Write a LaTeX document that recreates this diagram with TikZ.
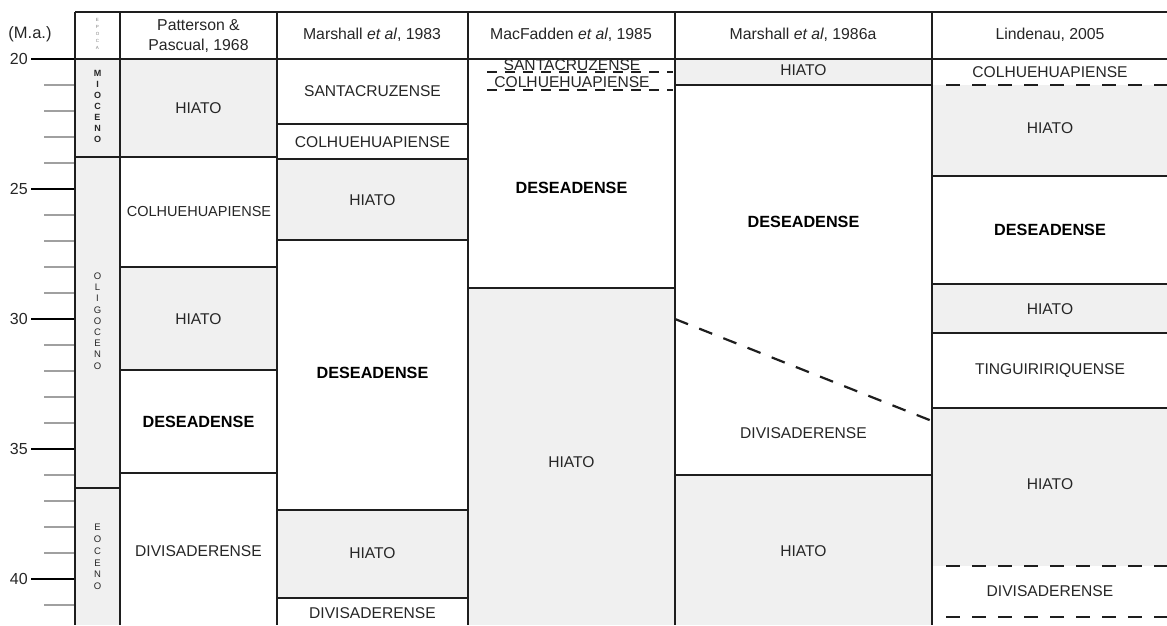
\documentclass[tikz,border=0pt]{standalone}
\usepackage{fontspec}
\setmainfont{Liberation Sans}
\usetikzlibrary{positioning}
\definecolor{gapgray}{HTML}{F0F0F0}
\definecolor{linegray}{HTML}{1E1E1E}
\definecolor{txtgray}{HTML}{262626}
\definecolor{tickgray}{HTML}{A0A0A0}

\begin{document}
\begin{tikzpicture}[x=1pt,y=-1pt,
  rule/.style={line width=1.9pt,draw=linegray},
  dashrule/.style={line width=2.2pt,draw=linegray,dash pattern=on 14pt off 12pt},
  lbl/.style={font=\fontsize{15.6}{18}\selectfont,text=txtgray},
  blbl/.style={font=\fontsize{16.2}{18}\selectfont\bfseries,text=black},
  hdr/.style={font=\fontsize{15.8}{20}\selectfont,text=txtgray,align=center},
  epoca/.style={align=center,text=txtgray}]
\useasboundingbox[fill=white] (0,0) rectangle (1167,625);

% fills
\fill[gapgray] (75,59) rectangle (120,625);
\fill[gapgray] (120,59) rectangle (277,157);
\fill[gapgray] (120,267) rectangle (277,370);
\fill[gapgray] (277,159) rectangle (468,240);
\fill[gapgray] (277,510) rectangle (468,598);
\fill[gapgray] (468,288) rectangle (675,625);
\fill[gapgray] (675,59) rectangle (932,85);
\fill[gapgray] (675,475) rectangle (932,625);
\fill[gapgray] (932,85) rectangle (1167,176);
\fill[gapgray] (932,284) rectangle (1167,333);
\fill[gapgray] (932,408) rectangle (1167,566);

% scale
\foreach \m in {21,...,41}
  \draw[tickgray,line width=1.3pt] (44,{59+26*(\m-20)}) -- (75,{59+26*(\m-20)});
\foreach \m in {20,25,...,40}
  \draw[black,line width=2.6pt] (31,{59+26*(\m-20)}) node[left,lbl,inner sep=2pt,font=\fontsize{16}{18}\selectfont] (ma\m) {\m} -- (75,{59+26*(\m-20)});
\node[lbl,font=\fontsize{16.5}{18}\selectfont] (unit) at (30,34) {(M.a.)};

% frame
\draw[rule] (75,12) -- (1167,12);
\draw[rule] (75,59) -- (1167,59);
\foreach \x in {75,120,277,468,675,932}
  \draw[rule] (\x,12) -- (\x,625);

% epochs
\draw[rule] (75,157) -- (277,157);
\draw[rule] (75,488) -- (120,488);
\node[epoca,font=\fontsize{4.5}{7}\selectfont,text=gray] (epHdr) at (97.5,34) {E\\P\\O\\C\\A};
\node[epoca,font=\fontsize{9}{11}\selectfont\bfseries] (mio) at (97.5,106) {M\\I\\O\\C\\E\\N\\O};
\node[epoca,font=\fontsize{9.5}{11.2}\selectfont] (oli) at (97.5,321) {O\\L\\I\\G\\O\\C\\E\\N\\O};
\node[epoca,font=\fontsize{9.5}{11.8}\selectfont] (eoc) at (97.5,557) {E\\O\\C\\E\\N\\O};

% headers
\node[hdr] (hPat) at (198.5,36) {Patterson \&\\Pascual, 1968};
\node[hdr] (hMar83) at (372,35) {Marshall \textit{et al}, 1983};
\node[hdr] (hMac) at (571,35) {MacFadden \textit{et al}, 1985};
\node[hdr] (hMar86) at (803,35) {Marshall \textit{et al}, 1986a};
\node[hdr] (hLin) at (1050,35) {Lindenau, 2005};

% Patterson & Pascual
\draw[rule] (120,267) -- (277,267);
\draw[rule] (120,370) -- (277,370);
\draw[rule] (120,473) -- (277,473);
\node[lbl] (pat1) at (198.5,108) {HIATO};
\node[lbl,font=\fontsize{14.5}{18}\selectfont] (pat2) at (199,212) {COLHUEHUAPIENSE};
\node[lbl] (pat3) at (198.5,319) {HIATO};
\node[blbl] (pat4) at (198.5,422) {DESEADENSE};
\node[lbl] (pat5) at (198.5,551) {DIVISADERENSE};

% Marshall 1983
\draw[rule] (277,124) -- (468,124);
\draw[rule] (277,159) -- (468,159);
\draw[rule] (277,240) -- (468,240);
\draw[rule] (277,510) -- (468,510);
\draw[rule] (277,598) -- (468,598);
\node[lbl] (mar1) at (372.5,91) {SANTACRUZENSE};
\node[lbl] (mar2) at (372.5,142) {COLHUEHUAPIENSE};
\node[lbl] (mar3) at (372.5,200) {HIATO};
\node[blbl] (mar4) at (372.5,373) {DESEADENSE};
\node[lbl] (mar5) at (372.5,553) {HIATO};
\node[lbl] (mar6) at (372.5,613) {DIVISADERENSE};

% MacFadden
\draw[line width=2.2pt,draw=linegray,dash pattern=on 10pt off 8pt] (487,72) -- (673,72);
\draw[line width=2.2pt,draw=linegray,dash pattern=on 10pt off 8pt] (487,90) -- (673,90);
\draw[rule] (468,288) -- (675,288);
\node[lbl,inner sep=0pt] (mac1) at (572,65) {SANTACRUZENSE};
\node[lbl,inner sep=0pt] (mac2) at (572,82) {COLHUEHUAPIENSE};
\node[blbl] (mac3) at (571.5,188) {DESEADENSE};
\node[lbl] (mac4) at (571.5,462) {HIATO};

% Marshall 1986a
\draw[rule] (675,85) -- (932,85);
\draw[rule] (675,475) -- (932,475);
\draw[dashrule] (675,319) -- (932,421);
\node[lbl] (m86a) at (803.5,70) {HIATO};
\node[blbl] (m86b) at (803.5,222) {DESEADENSE};
\node[lbl] (m86c) at (803.5,433) {DIVISADERENSE};
\node[lbl] (m86d) at (803.5,551) {HIATO};

% Lindenau
\draw[dashrule] (946,85) -- (1167,85);
\draw[rule] (932,176) -- (1167,176);
\draw[rule] (932,284) -- (1167,284);
\draw[rule] (932,333) -- (1167,333);
\draw[rule] (932,408) -- (1167,408);
\draw[dashrule] (946,566) -- (1167,566);
\draw[dashrule] (946,617) -- (1167,617);
\node[lbl] (lin1) at (1050,72) {COLHUEHUAPIENSE};
\node[lbl] (lin2) at (1050,128) {HIATO};
\node[blbl] (lin3) at (1050,230) {DESEADENSE};
\node[lbl] (lin4) at (1050,309) {HIATO};
\node[lbl] (lin5) at (1050,371) {TINGUIRIRIQUENSE};
\node[lbl] (lin6) at (1050,484) {HIATO};
\node[lbl] (lin7) at (1050,591) {DIVISADERENSE};
\end{tikzpicture}
\end{document}
